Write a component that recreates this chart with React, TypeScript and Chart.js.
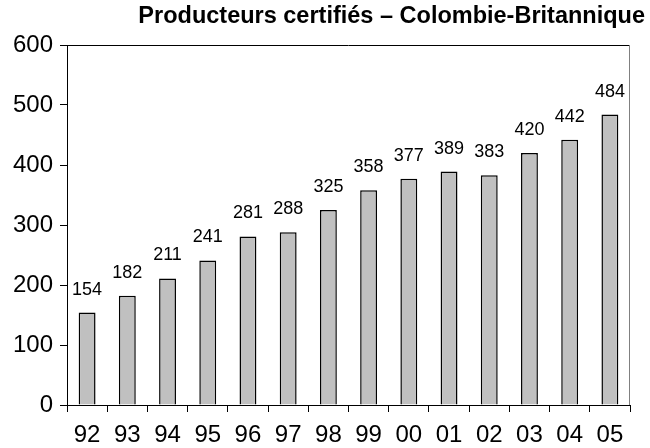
import React, { useEffect, useRef } from "react";
import { Chart, registerables } from "chart.js";

Chart.register(...registerables);

const TITLE = "Producteurs certifiés – Colombie-Britannique";
const YEARS = ["92", "93", "94", "95", "96", "97", "98", "99", "00", "01", "02", "03", "04", "05"];
const PRODUCERS = [154, 182, 211, 241, 281, 288, 325, 358, 377, 389, 383, 420, 442, 484];
const Y_MIN = 0;
const Y_MAX = 600;
const Y_STEP = 100;

const FONT = "'Liberation Sans', Arial, sans-serif";

const decorPlugin = {
  id: "decor",
  afterDraw(chart: any) {
    const { ctx, chartArea } = chart;
    const { left, right, top, bottom } = chartArea;
    ctx.save();
    ctx.strokeStyle = "#000";
    ctx.lineWidth = 1;
    ctx.beginPath();
    ctx.moveTo(left, top + 0.5);
    ctx.lineTo(right, top + 0.5);
    ctx.stroke();
    ctx.strokeStyle = "#808080";
    ctx.beginPath();
    ctx.moveTo(right - 0.5, top);
    ctx.lineTo(right - 0.5, bottom);
    ctx.stroke();
    const meta = chart.getDatasetMeta(0);
    ctx.fillStyle = "#000";
    ctx.font = `18px ${FONT}`;
    ctx.textAlign = "center";
    ctx.textBaseline = "middle";
    meta.data.forEach((bar: any, i: number) => {
      ctx.fillText(String(PRODUCERS[i]), bar.x, bar.y - 23);
    });
    ctx.font = `bold 23.5px ${FONT}`;
    ctx.textAlign = "right";
    ctx.textBaseline = "alphabetic";
    ctx.fillText(TITLE, 645, 23);
    ctx.restore();
  },
};

export default function App() {
  const ref = useRef<HTMLCanvasElement>(null);
  useEffect(() => {
    document.body.style.margin = "0";
    const chart = new Chart(ref.current!, {
      type: "bar",
      data: {
        labels: YEARS,
        datasets: [
          {
            data: PRODUCERS,
            backgroundColor: "#c0c0c0",
            borderColor: "#000",
            borderWidth: 1.5,
            barPercentage: 0.42,
            categoryPercentage: 1,
          },
        ],
      },
      options: {
        animation: false,
        responsive: false,
        devicePixelRatio: 1,
        layout: { padding: { top: 45, right: 20, left: 0, bottom: 0 } },
        plugins: { legend: { display: false }, tooltip: { enabled: false }, title: { display: false } },
        scales: {
          x: {
            offset: true,
            grid: { offset: true, drawOnChartArea: false, drawTicks: true, tickLength: 7, color: "#000" },
            border: { color: "#000", width: 1 },
            ticks: { color: "#000", font: { family: FONT, size: 24 }, padding: 9, maxRotation: 0, autoSkip: false },
            afterFit: (s: any) => {
              s.height = 43;
            },
          },
          y: {
            min: Y_MIN,
            max: Y_MAX,
            grid: { drawOnChartArea: false, drawTicks: true, tickLength: 7, color: "#000" },
            border: { color: "#000", width: 1 },
            ticks: { stepSize: Y_STEP, color: "#000", font: { family: FONT, size: 24 }, padding: 7 },
            afterFit: (s: any) => {
              s.width = 67;
            },
          },
        },
      },
      plugins: [decorPlugin],
    });
    return () => chart.destroy();
  }, []);
  return (
    <div style={{ width: 650, height: 448 }}>
      <canvas ref={ref} width={650} height={448} />
    </div>
  );
}
